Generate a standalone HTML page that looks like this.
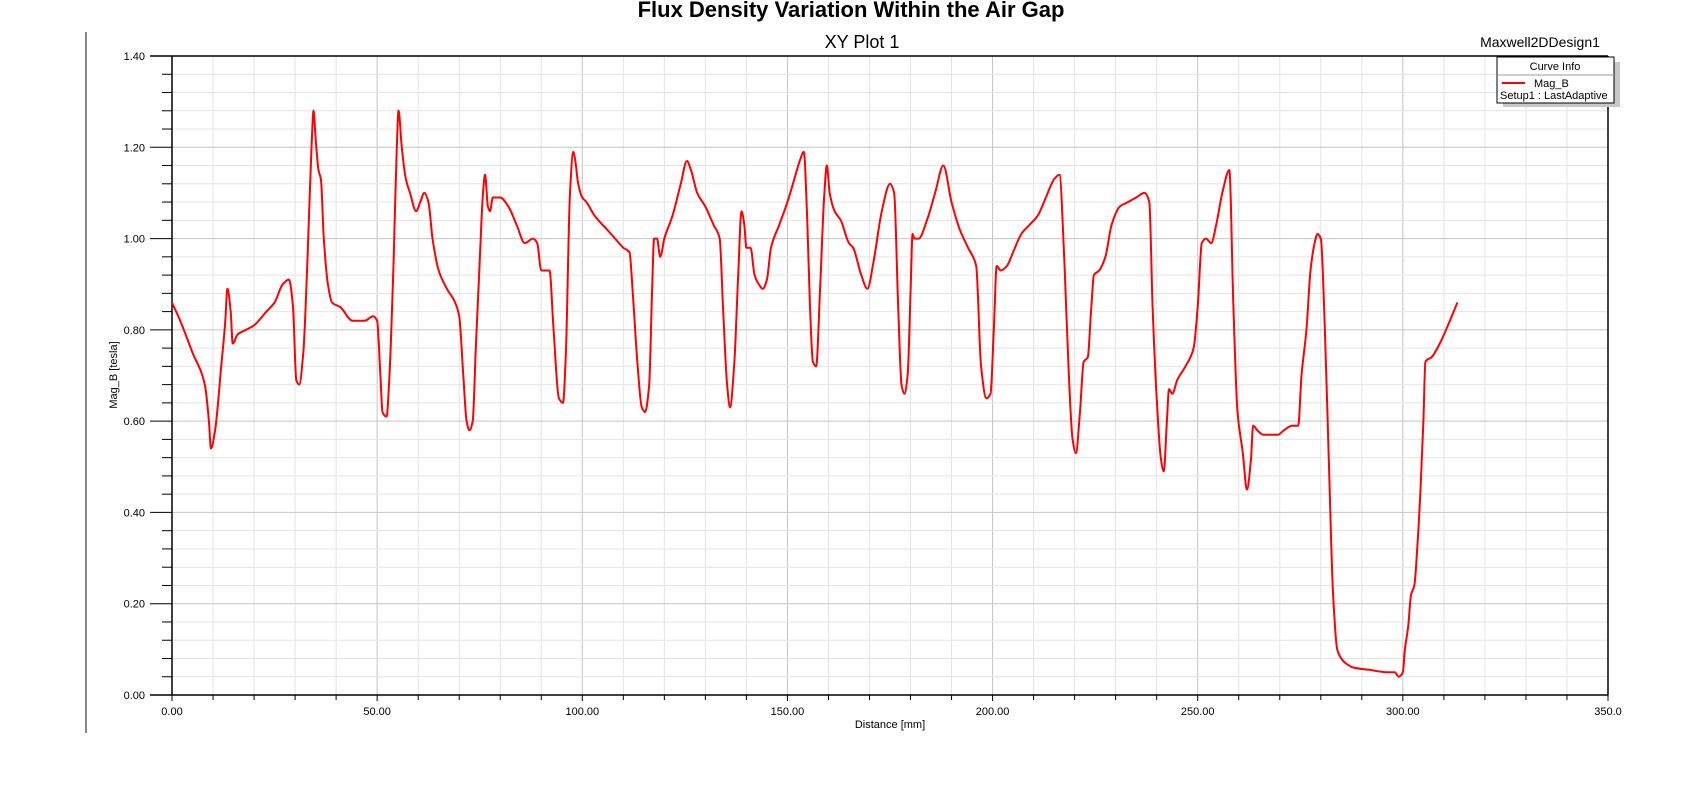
<!DOCTYPE html>
<html><head><meta charset="utf-8"><style>
body{margin:0;background:#fff;width:1702px;height:788px;overflow:hidden;font-family:"Liberation Sans",sans-serif}
svg text{font-family:"Liberation Sans",sans-serif}
</style></head><body>
<svg id="chart" width="1702" height="788" viewBox="0 0 1702 788">
<text x="851" y="17" text-anchor="middle" font-size="22" font-weight="bold" fill="#000">Flux Density Variation Within the Air Gap</text>
<text x="862" y="48" text-anchor="middle" font-size="18" fill="#000">XY Plot 1</text>
<text x="1540" y="47" text-anchor="middle" font-size="14" fill="#000">Maxwell2DDesign1</text>
<line x1="86" y1="32" x2="86" y2="733" stroke="#888" stroke-width="2"/>
<g id="grid"></g>
<g id="axes"></g>
<path id="curve" fill="none" stroke="#ff0000" stroke-width="2"/>
<text x="890" y="728" text-anchor="middle" font-size="11">Distance [mm]</text>
<text transform="translate(117,375) rotate(-90)" text-anchor="middle" font-size="11">Mag_B [tesla]</text>
<g>
<rect x="1503" y="62" width="117" height="45" fill="#c8c8c8"/>
<rect x="1497" y="57" width="117" height="46" fill="#fff" stroke="#000"/>
<line x1="1497" y1="75" x2="1614" y2="75" stroke="#999"/>
<text x="1555" y="70" text-anchor="middle" font-size="11">Curve Info</text>
<line x1="1502" y1="83" x2="1525" y2="83" stroke="#f00" stroke-width="2"/>
<text x="1534" y="87" font-size="11">Mag_B</text>
<text x="1500" y="99" font-size="11">Setup1 : LastAdaptive</text>
</g>
</svg>
<script>
const xs=[0,2,5,8,9,9.5,10.5,12,13,13.5,14.3,14.8,16,18,20,23,25,27,28.5,29.5,30.3,31,32,33,34,34.5,35,35.7,36.3,37,38,39,41,44,47,49,50,50.8,51.3,52.3,53,54,54.8,55.2,56,57,58,59.5,60.5,61.5,62.5,63.5,65,67,69,70,71,71.8,72.5,73.3,74,75,75.8,76.3,77,77.5,78.2,80,82,84,86,88,89,90,92,93,94.3,95.3,96,97,97.8,98.3,99,100,101,103,106,108,110,111.5,112.3,113.5,114.5,115.3,116.3,117,117.5,118.2,119,120,122,124,125.5,126.5,128,130,132,133.5,134.3,135.3,136,137,138,138.8,139.5,140,141,142,143,144,145,146,148,150,152,153,154,154.8,155.5,156.2,157,158,159,159.6,160.3,161.5,163,165,166,168,169.5,171,173,175,176,177,177.8,178.5,179.3,180,180.5,181,182,184,186,188,190,192,194,196,197.2,198.5,199.5,200.3,201,202,203.5,205,207,209,211,213,215,216.3,217.5,218.5,219.5,220.3,221.3,222.2,223.2,224,224.7,226,227.5,229,231,233,235,237,238.2,239,240,241,241.7,242.5,243,243.8,245,247,249,250,251,252,253.3,254.5,256,257.7,258.7,259.7,261,262,263,263.5,264.5,266,267.5,269.5,271,273,274.5,275.3,276.5,277.5,278.5,279.2,280,281,282,283,284,285,286,288,292,296,298,299,300,300.5,301.3,302,302.8,303.5,304.3,305,305.5,307,309,311,313.3];
const ys=[0.86,0.82,0.75,0.68,0.60,0.54,0.58,0.72,0.82,0.89,0.84,0.77,0.79,0.80,0.81,0.84,0.86,0.90,0.91,0.85,0.69,0.68,0.75,0.95,1.20,1.28,1.22,1.15,1.13,1.00,0.90,0.86,0.85,0.82,0.82,0.83,0.82,0.70,0.62,0.61,0.70,0.95,1.20,1.28,1.20,1.13,1.10,1.06,1.08,1.10,1.08,1.00,0.93,0.89,0.86,0.83,0.70,0.60,0.58,0.60,0.75,0.95,1.10,1.14,1.07,1.06,1.09,1.09,1.07,1.03,0.99,1.00,0.99,0.93,0.93,0.80,0.65,0.64,0.75,1.10,1.19,1.17,1.12,1.09,1.08,1.05,1.02,1.00,0.98,0.97,0.88,0.72,0.63,0.62,0.68,0.88,1.00,1.00,0.96,1.00,1.05,1.12,1.17,1.15,1.10,1.07,1.03,1.00,0.85,0.68,0.63,0.72,0.92,1.06,1.03,0.98,0.98,0.92,0.90,0.89,0.91,0.98,1.03,1.08,1.14,1.17,1.19,1.05,0.85,0.73,0.72,0.90,1.10,1.16,1.10,1.06,1.04,0.99,0.98,0.92,0.89,0.95,1.06,1.12,1.10,0.85,0.68,0.66,0.70,0.88,1.01,1.00,1.00,1.04,1.10,1.16,1.08,1.02,0.98,0.94,0.72,0.65,0.66,0.80,0.94,0.93,0.94,0.97,1.01,1.03,1.05,1.09,1.13,1.14,0.95,0.72,0.56,0.53,0.62,0.73,0.74,0.84,0.92,0.93,0.96,1.03,1.07,1.08,1.09,1.10,1.08,0.85,0.65,0.52,0.49,0.60,0.67,0.66,0.69,0.72,0.76,0.85,0.99,1.00,0.99,1.03,1.10,1.15,0.85,0.62,0.53,0.45,0.52,0.59,0.58,0.57,0.57,0.57,0.58,0.59,0.59,0.70,0.80,0.93,0.99,1.01,1.00,0.80,0.50,0.22,0.10,0.08,0.07,0.06,0.055,0.05,0.05,0.04,0.05,0.10,0.15,0.22,0.24,0.32,0.45,0.60,0.73,0.74,0.77,0.81,0.86];
const xTickLabels=["0.00","50.00","100.00","150.00","200.00","250.00","300.00","350.0"];
const yTickLabels=["0.00","0.20","0.40","0.60","0.80","1.00","1.20","1.40"];
const L=172,R=1608,T=56,B=695,XMAX=350,YMAX=1.4;
const sx=v=>L+(R-L)*v/XMAX, sy=v=>B-(B-T)*v/YMAX;
const NS="http://www.w3.org/2000/svg";
const grid=document.getElementById('grid'),axes=document.getElementById('axes');
function ln(p,x1,y1,x2,y2,c,w){const l=document.createElementNS(NS,'line');l.setAttribute('x1',x1);l.setAttribute('y1',y1);l.setAttribute('x2',x2);l.setAttribute('y2',y2);l.setAttribute('stroke',c);l.setAttribute('stroke-width',w);p.appendChild(l);return l;}
function tx(p,x,y,s,a){const t=document.createElementNS(NS,'text');t.setAttribute('x',x);t.setAttribute('y',y);t.setAttribute('font-size','11');t.setAttribute('text-anchor',a);t.textContent=s;p.appendChild(t);return t;}
for(let v=0;v<=XMAX;v+=10){const maj=v%50===0;const g=ln(grid,sx(v),T,sx(v),B,maj?'#c4c4c4':'#e4e4e4',1);


ln(axes,sx(v),B,sx(v),B+(maj?6:5),'#000',1);}
for(let i=0;i<=35;i++){const v=i*0.04;const maj=i%5===0;const g=ln(grid,L,sy(v),R,sy(v),maj?'#c4c4c4':'#e4e4e4',1);


ln(axes,maj?L-22:L-10,sy(v),L,sy(v),'#000',1);}
let a=ln(axes,L,T,L,B,'#000',1.5);
a=ln(axes,L-22,B,R,B,'#000',1.5);
ln(axes,L-22,T,R,T,'#000',1.5);ln(axes,R,T,R,B,'#000',1.5);
xTickLabels.forEach((s,i)=>{const t=tx(axes,sx(i*50),715,s,'middle');

});
yTickLabels.forEach((s,i)=>{const t=tx(axes,L-27,sy(i*0.2)+4,s,'end');

});
// monotone cubic path
const px=xs.map(sx),py=ys.map(sy),n=px.length;
const d=[],m=new Array(n);
for(let i=0;i<n-1;i++)d.push((py[i+1]-py[i])/(px[i+1]-px[i]));
m[0]=d[0];m[n-1]=d[n-2];
for(let i=1;i<n-1;i++){if(d[i-1]*d[i]<=0)m[i]=0;else{const h0=px[i]-px[i-1],h1=px[i+1]-px[i];m[i]=3*(h0+h1)/((2*h1+h0)/d[i-1]+(h1+2*h0)/d[i]);}}
let path='M'+px[0].toFixed(1)+' '+py[0].toFixed(1);
for(let i=0;i<n-1;i++){const h=(px[i+1]-px[i])/3;
path+=' C'+(px[i]+h).toFixed(1)+' '+(py[i]+m[i]*h).toFixed(1)+' '+(px[i+1]-h).toFixed(1)+' '+(py[i+1]-m[i+1]*h).toFixed(1)+' '+px[i+1].toFixed(1)+' '+py[i+1].toFixed(1);}
document.getElementById('curve').setAttribute('d',path);
</script>
</body></html>
